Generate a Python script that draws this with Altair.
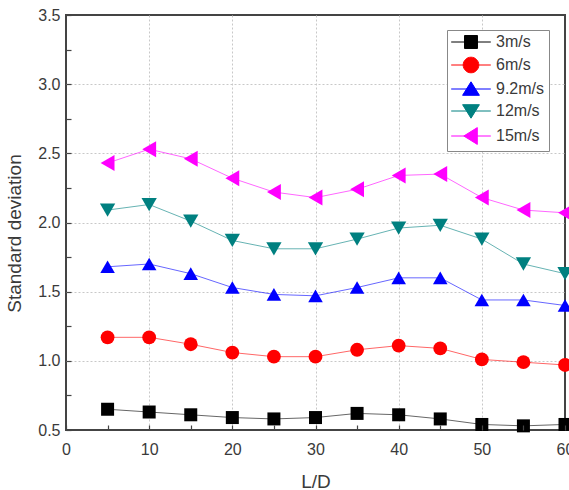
import altair as alt
import pandas as pd

# L/D positions and standard deviation per wind speed
ld = [5, 10, 15, 20, 25, 30, 35, 40, 45, 50, 55, 60]
sd_3 = [0.65, 0.63, 0.61, 0.59, 0.58, 0.59, 0.62, 0.61, 0.58, 0.54, 0.53, 0.54]
sd_6 = [1.17, 1.17, 1.12, 1.06, 1.03, 1.03, 1.08, 1.11, 1.09, 1.01, 0.99, 0.97]
sd_9_2 = [1.68, 1.70, 1.63, 1.53, 1.48, 1.47, 1.53, 1.60, 1.60, 1.44, 1.44, 1.40]
sd_12 = [2.09, 2.13, 2.01, 1.87, 1.81, 1.81, 1.88, 1.96, 1.98, 1.88, 1.70, 1.63]
sd_15 = [2.43, 2.53, 2.46, 2.32, 2.22, 2.18, 2.24, 2.34, 2.35, 2.18, 2.09, 2.07]

series = ["3m/s", "6m/s", "9.2m/s", "12m/s", "15m/s"]
colors = ["#000000", "#ff0000", "#0000ff", "#008080", "#ff00ff"]
shapes = ["square", "circle", "triangle-up", "triangle-down", "triangle-left"]
sizes = [169, 256, 300, 300, 300]

# legend glyphs: a short line with the marker on it (unit = sqrt(symbolSize)/2)
legend_glyphs = [
    "M-3.3,0H3.3M-1.08,-1.08H1.08V1.08H-1.08Z",
    "M-3.3,0H3.3M1.3,0A1.3,1.3,0,1,1,-1.3,0A1.3,1.3,0,1,1,1.3,0Z",
    "M-3.3,0H3.3M0,-1.2L1.4,1.05H-1.4Z",
    "M-3.3,0H3.3M0,1.2L1.4,-1.05H-1.4Z",
    "M-3.3,0H3.3M-1.2,0L1.05,-1.4V1.4Z",
]

x_ticks = [0, 5, 10, 15, 20, 25, 30, 35, 40, 45, 50, 55, 60]
y_ticks = [0.5, 0.75, 1.0, 1.25, 1.5, 1.75, 2.0, 2.25, 2.5, 2.75, 3.0, 3.25, 3.5]
x_grid = [10, 20, 30, 40, 50]
y_grid = [1.0, 1.5, 2.0, 2.5, 3.0]

values = [sd_3, sd_6, sd_9_2, sd_12, sd_15]
rows = []
for name, vals in zip(series, values):
    for x, y in zip(ld, vals):
        rows.append({"LD": x, "SD": y, "series": name})
df = pd.DataFrame(rows)

FONT = "Liberation Sans"
TEXT = "#3a3a3a"

x_scale = alt.Scale(domain=[0, 60], nice=False, zero=False)
y_scale = alt.Scale(domain=[0.5, 3.5], nice=False, zero=False)

# inward ticks: the axis sits 5px inside the frame and its ticks reach out to it
common_axis = dict(
    domain=False,
    offset=-5,
    ticks=True,
    tickSize=5,
    tickColor="#444444",
    tickWidth=1.2,
    zindex=1,
    grid=False,
    labelFont=FONT,
    labelFontSize=16,
    labelColor=TEXT,
    labelFlush=False,
    labelOverlap=False,
    titleFont=FONT,
    titleFontSize=19,
    titleColor=TEXT,
    titleFontWeight="normal",
)
grid_axis = dict(
    grid=True,
    gridColor="#c8c8c8",
    gridDash=[2, 2],
    gridWidth=1,
    domain=False,
    ticks=False,
    labels=False,
    title=None,
    zindex=0,
)

x_axis = alt.Axis(
    orient="bottom",
    title="L/D",
    values=x_ticks,
    labelExpr="datum.value % 10 == 0 ? format(datum.value, 'd') : ''",
    labelPadding=11,
    titlePadding=15,
    **common_axis,
)
y_axis = alt.Axis(
    orient="left",
    title="Standard deviation",
    values=y_ticks,
    labelExpr="datum.value % 0.5 == 0 ? format(datum.value, '.1f') : ''",
    labelPadding=6,
    titlePadding=13,
    titleY=218,
    **common_axis,
)

color_scale = alt.Scale(domain=series, range=colors)

# dotted grid lines behind the data
grid_layer = alt.Chart(df).mark_point(opacity=0).encode(
    x=alt.X("LD:Q", scale=x_scale, axis=alt.Axis(orient="bottom", values=x_grid, **grid_axis)),
    y=alt.Y("SD:Q", scale=y_scale, axis=alt.Axis(orient="left", values=y_grid, **grid_axis)),
)

base = alt.Chart(df).encode(
    x=alt.X("LD:Q", scale=x_scale, axis=x_axis),
    y=alt.Y("SD:Q", scale=y_scale, axis=y_axis),
    color=alt.Color("series:N", scale=color_scale, legend=None),
)

lines = base.mark_line(strokeWidth=1, opacity=0.6)
points = base.mark_point(filled=True, opacity=1).encode(
    shape=alt.Shape("series:N", scale=alt.Scale(domain=series, range=shapes), legend=None),
    size=alt.Size("series:N", scale=alt.Scale(domain=series, range=sizes), legend=None),
)
plot = alt.layer(lines, points)

legend = alt.Legend(
    title=None,
    orient="none",
    legendX=381,
    legendY=15,
    padding=4,
    strokeColor="#888888",
    fillColor="white",
    symbolSize=144,
    symbolOffset=12,
    symbolStrokeWidth=1,
    symbolOpacity=1,
    labelOffset=17,
    rowPadding=4,
    labelFont=FONT,
    labelFontSize=16,
    labelColor=TEXT,
)

legend_df = pd.DataFrame({"series": series})
legend_layer = alt.Chart(legend_df).mark_point(filled=True).encode(
    fill=alt.Fill("series:N", scale=alt.Scale(domain=series, range=colors), legend=legend),
    stroke=alt.Stroke("series:N", scale=alt.Scale(domain=series, range=colors), legend=legend),
    shape=alt.Shape("series:N", scale=alt.Scale(domain=series, range=legend_glyphs), legend=legend),
    opacity=alt.value(0),
)

chart = (
    alt.layer(grid_layer, plot, legend_layer)
    .resolve_scale(shape="independent", fill="independent", stroke="independent")
    .resolve_axis(x="independent", y="independent")
    .properties(
        width=499,
        height=415,
        autosize=alt.AutoSizeParams(type="none"),
        padding={"left": 66, "top": 15, "right": 4, "bottom": 60},
        background="white",
    )
    .configure_view(stroke="#444444", strokeWidth=2)
)

chart.save("out.html", embed_options={"renderer": "svg", "actions": False})
